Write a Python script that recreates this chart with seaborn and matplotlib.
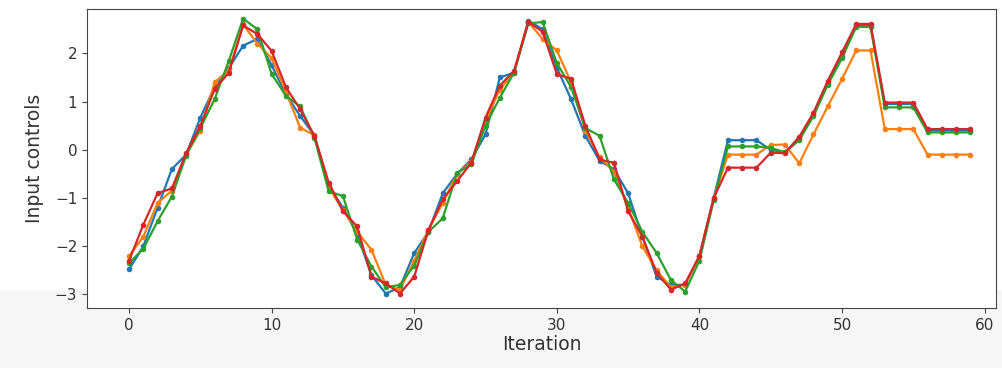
import numpy as np
import pandas as pd
import seaborn as sns
import matplotlib.pyplot as plt
from matplotlib.patches import Rectangle

# Iteration index and the four input-control traces.
iterations = list(range(60))

blue = [-2.48, -2.0, -1.2, -0.4, -0.1, 0.67, 1.3, 1.7, 2.16, 2.3,
        1.75, 1.15, 0.7, 0.3, -0.75, -1.2, -1.75, -2.6, -2.98, -2.85,
        -2.14, -1.7, -0.9, -0.5, -0.2, 0.32, 1.5, 1.6, 2.68, 2.5,
        1.7, 1.05, 0.29, -0.23, -0.4, -0.9, -1.8, -2.63, -2.8, -2.8,
        -2.2, -1.0, 0.2, 0.2, 0.2, 0.0, -0.05, 0.22, 0.72, 1.38,
        1.95, 2.58, 2.58, 0.95, 0.95, 0.95, 0.4, 0.4, 0.4, 0.4]

orange = [-2.2, -1.8, -1.1, -0.85, -0.1, 0.4, 1.4, 1.65, 2.6, 2.2,
          1.9, 1.2, 0.46, 0.3, -0.78, -1.25, -1.7, -2.07, -2.8, -2.9,
          -2.3, -1.66, -1.1, -0.5, -0.25, 0.6, 1.25, 1.6, 2.65, 2.3,
          2.06, 1.4, 0.4, -0.15, -0.45, -1.2, -2.0, -2.5, -2.85, -2.8,
          -2.2, -1.0, -0.1, -0.1, -0.1, 0.1, 0.11, -0.28, 0.32, 0.9,
          1.47, 2.06, 2.06, 0.43, 0.43, 0.43, -0.1, -0.1, -0.1, -0.1]

green = [-2.35, -2.05, -1.48, -0.97, -0.12, 0.45, 1.05, 1.85, 2.72, 2.5,
         1.57, 1.12, 0.9, 0.25, -0.86, -0.96, -1.86, -2.42, -2.85, -2.8,
         -2.4, -1.7, -1.42, -0.48, -0.3, 0.5, 1.08, 1.6, 2.62, 2.65,
         1.8, 1.3, 0.45, 0.29, -0.61, -1.1, -1.7, -2.14, -2.7, -2.94,
         -2.3, -1.05, 0.07, 0.07, 0.07, 0.04, -0.05, 0.2, 0.7, 1.35,
         1.9, 2.55, 2.55, 0.88, 0.88, 0.88, 0.36, 0.36, 0.36, 0.36]

red = [-2.3, -1.55, -0.9, -0.8, -0.07, 0.5, 1.26, 1.6, 2.58, 2.4,
       2.05, 1.3, 0.84, 0.29, -0.68, -1.27, -1.59, -2.63, -2.77, -2.98,
       -2.63, -1.66, -1.03, -0.65, -0.27, 0.67, 1.33, 1.64, 2.65, 2.45,
       1.57, 1.47, 0.5, -0.2, -0.27, -1.27, -1.8, -2.55, -2.9, -2.77,
       -2.2, -1.0, -0.37, -0.37, -0.37, -0.06, -0.07, 0.27, 0.77, 1.43,
       2.02, 2.61, 2.61, 0.98, 0.98, 0.98, 0.43, 0.43, 0.43, 0.43]

series = {"u0": blue, "u1": orange, "u2": green, "u3": red}
colors = ["#1f77b4", "#ff7f0e", "#2ca02c", "#d62728"]

df = pd.DataFrame([
    {"Iteration": it, "value": v, "control": name}
    for name, vals in series.items()
    for it, v in zip(iterations, vals)
])

fig = plt.figure(figsize=(10.02, 3.68), dpi=100)
# faint grey band at the bottom of the original screenshot
fig.patches.append(Rectangle((0, 0), 1, 78 / 368, transform=fig.transFigure,
                             facecolor="#f6f6f6", edgecolor="none", zorder=-5))
ax = fig.add_axes([87 / 1002, 1 - 308 / 368, (996 - 87) / 1002, (308 - 9) / 368])

sns.lineplot(data=df, x="Iteration", y="value", hue="control",
             palette=colors, marker="o", markersize=4, markeredgewidth=0,
             linewidth=1.6, legend=False, ax=ax)

ax.set_xlim(-2.95, 60.8)
ax.set_ylim(-3.28, 2.92)
ax.set_xticks([0, 10, 20, 30, 40, 50, 60])
ax.set_yticks([-3, -2, -1, 0, 1, 2])
ax.tick_params(labelsize=11, labelcolor="#333333", color="#444444")
ax.set_xlabel("Iteration", fontsize=13.5, labelpad=2, color="#333333")
ax.set_ylabel("Input controls", fontsize=13.5, labelpad=8, color="#333333")
for s in ax.spines.values():
    s.set_color("#444444")

fig.savefig("out.png", dpi=100)
